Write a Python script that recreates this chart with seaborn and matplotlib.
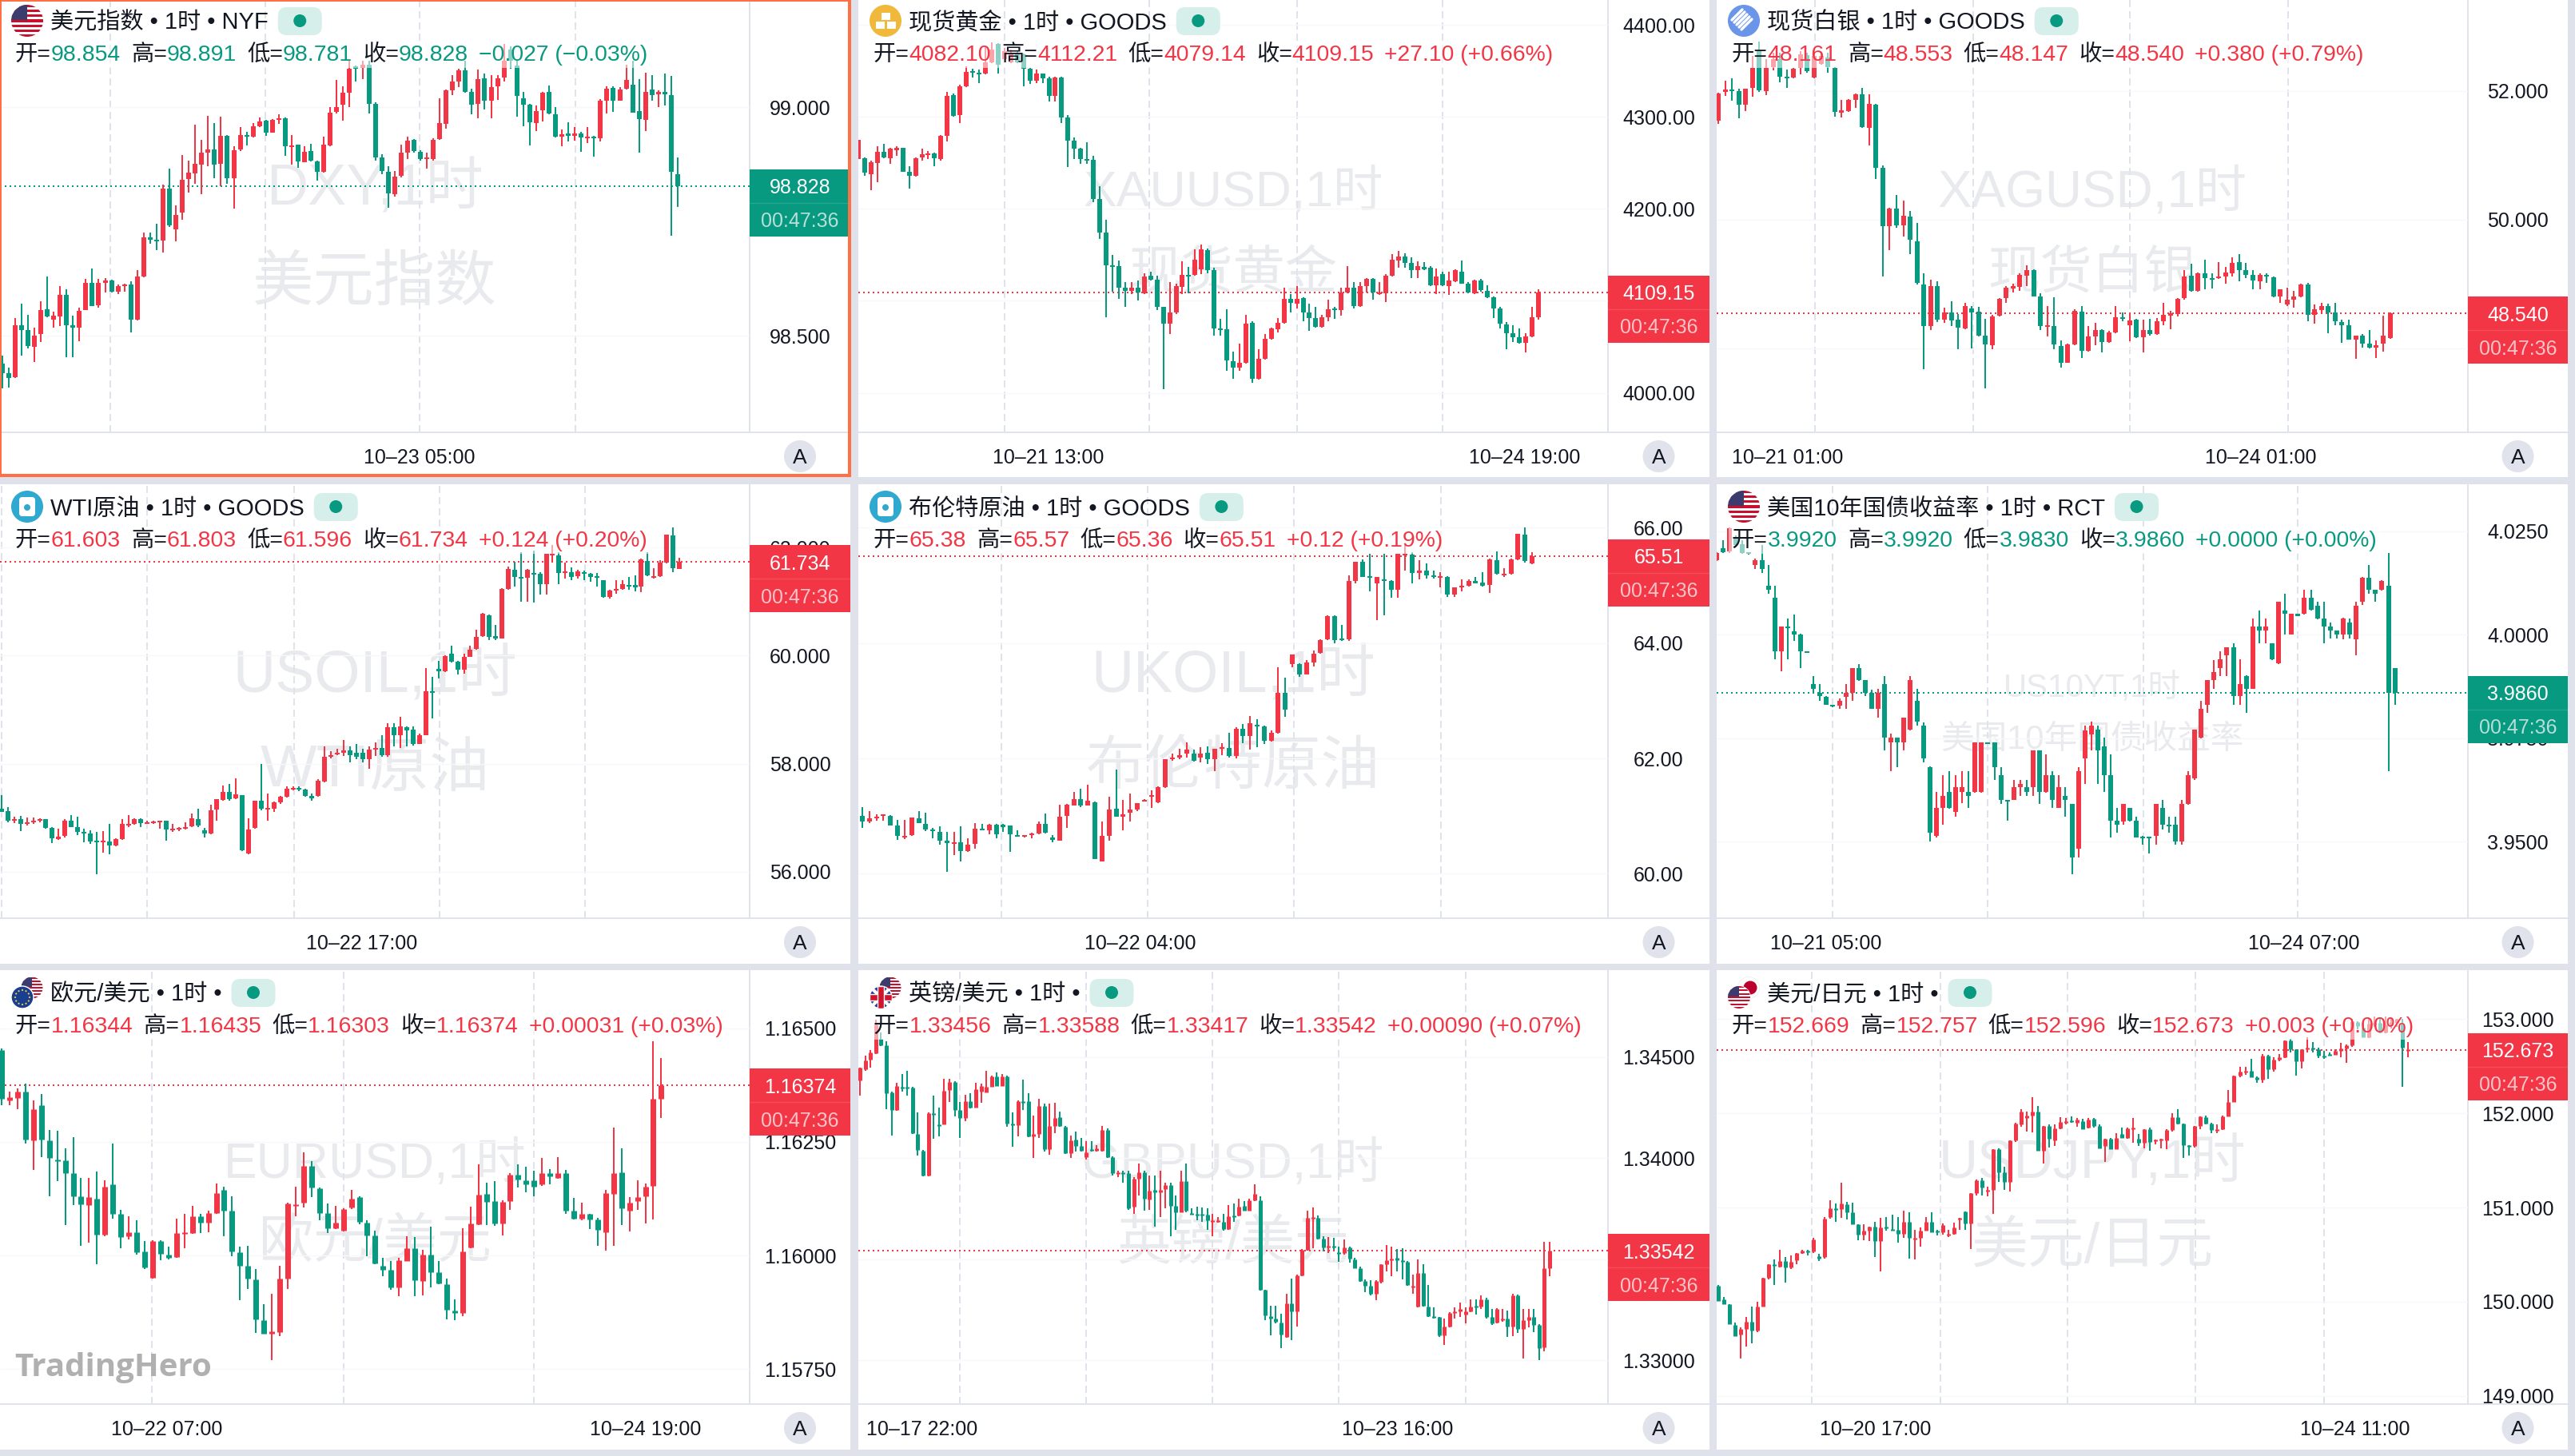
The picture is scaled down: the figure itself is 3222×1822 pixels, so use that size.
import numpy as np
import pandas as pd
import matplotlib
matplotlib.use("Agg")
import matplotlib.pyplot as plt
from matplotlib.patches import Circle, Rectangle, FancyBboxPatch
import seaborn as sns

# bars are flat lists: open, high, low, close, open, high, ...
dxy_ohlc = [
    98.439,98.456,98.385,98.419, 98.419,98.430,98.386,98.408, 98.410,98.538,98.408,98.523, 98.523,98.570,98.456,98.512, 98.512,98.546,98.472,98.478, 98.476,98.517,98.442,98.500,
    98.503,98.575,98.487,98.557, 98.558,98.630,98.541,98.542, 98.536,98.553,98.517,98.544, 98.542,98.609,98.521,98.589, 98.589,98.601,98.453,98.523, 98.523,98.544,98.453,98.517,
    98.517,98.561,98.488,98.555, 98.557,98.625,98.556,98.616, 98.616,98.648,98.565,98.565, 98.566,98.625,98.561,98.616, 98.616,98.627,98.595,98.621, 98.621,98.623,98.595,98.597,
    98.597,98.612,98.592,98.609, 98.609,98.614,98.597,98.612, 98.612,98.619,98.507,98.536, 98.536,98.643,98.534,98.629, 98.629,98.725,98.628,98.716, 98.715,98.725,98.701,98.711,
    98.710,98.745,98.687,98.707, 98.708,98.830,98.682,98.822, 98.822,98.866,98.738,98.741, 98.733,98.786,98.706,98.765, 98.769,98.895,98.753,98.842, 98.843,98.884,98.813,98.857,
    98.856,98.961,98.833,98.876, 98.874,98.929,98.810,98.901, 98.900,98.981,98.871,98.908, 98.908,98.965,98.844,98.874, 98.876,98.979,98.827,98.937, 98.937,98.939,98.833,98.845,
    98.844,98.915,98.778,98.906, 98.907,98.957,98.905,98.939, 98.939,98.946,98.916,98.935, 98.935,98.966,98.934,98.959, 98.959,98.978,98.957,98.968, 98.971,98.973,98.937,98.945,
    98.945,98.974,98.944,98.972, 98.973,98.984,98.963,98.976, 98.976,98.977,98.893,98.914, 98.914,98.939,98.874,98.917, 98.918,98.918,98.867,98.881, 98.880,98.915,98.879,98.903,
    98.905,98.920,98.881,98.884, 98.882,98.884,98.840,98.859, 98.859,98.935,98.857,98.918, 98.916,99.000,98.915,98.988, 98.990,99.060,98.986,99.001, 99.005,99.046,98.971,99.031,
    99.032,99.102,99.000,99.084, 99.090,99.092,99.056,99.084, 99.086,99.102,99.061,99.093, 99.093,99.102,98.986,99.008, 99.008,99.010,98.884,98.891, 98.890,98.898,98.854,98.861,
    98.859,98.871,98.780,98.812, 98.810,98.861,98.805,98.848, 98.850,98.918,98.847,98.901, 98.901,98.935,98.886,98.927, 98.929,98.930,98.901,98.905, 98.903,98.906,98.884,98.886,
    98.886,98.901,98.866,98.891, 98.886,98.932,98.884,98.929, 98.931,99.019,98.929,98.965, 98.964,99.039,98.954,99.037, 99.037,99.071,99.027,99.056, 99.056,99.085,99.044,99.080,
    99.081,99.102,99.031,99.033, 99.033,99.041,98.984,99.005, 99.008,99.082,98.976,99.062, 99.063,99.073,98.995,99.014, 99.014,99.071,98.976,99.044, 99.046,99.071,99.016,99.063,
    99.065,99.139,99.056,99.102, 99.126,99.133,99.085,99.102, 99.092,99.102,98.980,99.024, 99.020,99.034,98.959,99.005, 99.005,99.007,98.916,98.967, 98.966,99.003,98.948,98.992,
    98.993,99.034,98.968,99.031, 99.033,99.048,98.984,98.987, 98.984,99.000,98.934,98.935, 98.935,98.952,98.915,98.941, 98.943,98.967,98.925,98.938, 98.937,98.956,98.927,98.942,
    98.942,98.946,98.903,98.934, 98.933,98.957,98.922,98.935, 98.936,98.937,98.892,98.933, 98.932,99.017,98.925,99.015, 99.014,99.046,98.986,99.041, 99.042,99.046,98.990,99.014,
    99.015,99.044,99.014,99.039, 99.041,99.093,99.039,99.060, 99.050,99.102,98.988,98.988, 98.992,99.061,98.901,98.974, 98.973,99.075,98.948,99.033, 99.039,99.071,99.014,99.026,
    99.029,99.037,99.001,99.033, 99.033,99.073,99.003,99.029, 99.027,99.069,98.719,98.859, 98.854,98.891,98.781,98.828,
]
gold_ohlc = [
    4254,4275,4254,4275, 4255,4256,4236,4239, 4238,4252,4220,4251, 4250,4268,4229,4262, 4262,4271,4255,4256, 4255,4266,4249,4265, 4264,4268,4258,4266, 4266,4266,4240,4240,
    4240,4246,4222,4236, 4236,4256,4235,4255, 4256,4265,4252,4259, 4259,4263,4254,4260, 4260,4261,4246,4255, 4254,4280,4252,4279, 4279,4327,4273,4323, 4324,4325,4300,4301,
    4302,4335,4293,4333, 4333,4355,4332,4349, 4349,4352,4343,4348, 4348,4351,4337,4347, 4347,4376,4346,4359, 4359,4381,4358,4373, 4379,4380,4347,4357, 4363,4375,4359,4371,
    4359,4373,4358,4369, 4369,4371,4358,4359, 4368,4369,4333,4352, 4352,4353,4336,4339, 4339,4351,4337,4347, 4347,4347,4337,4342, 4342,4344,4317,4323, 4323,4344,4317,4343,
    4343,4344,4293,4299, 4299,4302,4245,4274, 4274,4278,4254,4265, 4265,4266,4249,4254, 4254,4272,4249,4252, 4253,4258,4207,4211, 4211,4225,4167,4174, 4174,4188,4082,4139,
    4139,4150,4110,4137, 4138,4144,4102,4114, 4114,4120,4093,4111, 4111,4120,4107,4114, 4114,4122,4100,4109, 4108,4130,4107,4126, 4127,4132,4122,4123, 4123,4127,4090,4093,
    4093,4093,4004,4075, 4075,4120,4064,4087, 4087,4119,4086,4116, 4115,4143,4107,4128, 4128,4137,4108,4127, 4128,4156,4127,4145, 4134,4161,4129,4156, 4155,4157,4130,4133,
    4133,4136,4062,4070, 4070,4080,4062,4068, 4069,4091,4024,4035, 4034,4045,4015,4027, 4027,4053,4024,4033, 4033,4085,4032,4075, 4076,4078,4011,4015, 4015,4047,4014,4037,
    4037,4064,4036,4059, 4059,4071,4058,4070, 4069,4081,4066,4076, 4076,4114,4075,4102, 4102,4107,4087,4098, 4097,4116,4092,4102, 4103,4104,4078,4087, 4087,4097,4067,4081,
    4081,4093,4071,4072, 4072,4085,4071,4082, 4082,4101,4078,4091, 4091,4093,4080,4090, 4090,4114,4084,4109, 4109,4138,4108,4114, 4114,4120,4092,4094, 4094,4120,4093,4116,
    4116,4125,4109,4124, 4124,4125,4101,4109, 4107,4120,4106,4109, 4108,4129,4099,4127, 4127,4151,4126,4145, 4144,4154,4136,4148, 4148,4152,4136,4141, 4141,4147,4125,4133,
    4133,4143,4125,4138, 4137,4142,4133,4134, 4136,4138,4116,4117, 4117,4135,4107,4126, 4129,4132,4116,4117, 4116,4132,4106,4122, 4121,4134,4120,4133, 4132,4144,4119,4119,
    4119,4120,4108,4109, 4108,4123,4107,4122, 4122,4124,4110,4112, 4111,4117,4103,4104, 4104,4105,4081,4092, 4092,4093,4070,4075, 4074,4077,4047,4065, 4065,4073,4055,4060,
    4060,4070,4053,4054, 4054,4065,4044,4061, 4061,4093,4060,4082, 4082.10,4112.21,4079.14,4109.15,
]
silver_ohlc = [
    51.54,51.97,51.48,51.96, 51.98,52.15,51.92,52.02, 52.02,52.19,51.84,52.00, 52.00,52.03,51.57,51.78, 51.78,52.03,51.68,52.03, 52.04,52.54,51.91,52.35, 52.61,52.76,51.98,52.01,
    52.00,52.49,51.93,52.35, 52.37,52.59,52.32,52.49, 52.49,52.59,52.13,52.22, 52.22,52.33,52.04,52.19, 52.21,52.36,52.19,52.34, 52.36,52.61,52.25,52.57, 52.55,52.59,52.28,52.30,
    52.21,52.64,52.19,52.54, 52.42,52.59,52.40,52.54, 52.52,52.59,52.28,52.37, 52.36,52.37,51.60,51.67, 51.66,51.86,51.58,51.70, 51.69,51.87,51.67,51.86, 51.86,51.96,51.74,51.95,
    51.95,52.04,51.42,51.43, 51.42,51.94,51.15,51.79, 51.78,51.79,50.63,50.80, 50.80,50.84,49.12,49.90, 49.90,50.18,49.52,50.17, 50.17,50.38,49.87,49.91, 49.91,50.30,49.73,50.06,
    50.05,50.13,49.46,49.68, 49.66,49.95,48.99,49.01, 48.99,49.17,47.68,48.35, 48.35,49.06,48.28,48.97, 48.97,49.04,48.41,48.45, 48.45,48.63,48.39,48.56, 48.56,48.73,48.34,48.43,
    48.44,48.53,47.98,48.32, 48.31,48.71,48.30,48.65, 48.62,48.65,48.00,48.56, 48.57,48.64,48.18,48.19, 48.19,48.46,47.38,48.06, 48.05,48.52,47.98,48.50, 48.51,48.78,48.49,48.77,
    48.78,48.96,48.70,48.94, 48.93,49.00,48.87,48.96, 48.95,49.16,48.89,49.14, 49.13,49.29,48.97,49.22, 49.22,49.23,48.80,48.81, 48.81,48.85,48.28,48.34, 48.33,48.65,48.18,48.35,
    48.35,48.79,47.98,48.06, 48.04,48.12,47.70,47.77, 47.77,48.07,47.77,48.06, 48.06,48.60,48.05,48.58, 48.57,48.65,47.85,47.96, 47.96,48.34,47.95,48.18, 48.18,48.40,48.05,48.28,
    48.28,48.29,47.94,48.10, 48.10,48.27,48.09,48.25, 48.24,48.65,48.23,48.48, 48.48,48.56,48.42,48.46, 48.36,48.56,48.11,48.43, 48.44,48.46,48.16,48.17, 48.17,48.44,47.93,48.28,
    48.28,48.46,48.20,48.22, 48.22,48.47,48.21,48.42, 48.42,48.70,48.36,48.52, 48.51,48.58,48.30,48.54, 48.53,48.78,48.50,48.77, 48.78,49.22,48.76,49.12, 49.13,49.31,48.88,48.89,
    48.89,49.18,48.88,49.17, 49.16,49.38,48.92,49.09, 49.09,49.17,48.93,49.06, 49.09,49.34,49.08,49.11, 49.11,49.26,49.00,49.18, 49.17,49.41,49.11,49.32, 49.34,49.46,49.04,49.21,
    49.21,49.33,49.09,49.14, 49.14,49.21,48.92,49.05, 49.04,49.16,48.91,49.14, 49.14,49.17,49.01,49.11, 49.10,49.11,48.79,48.81, 48.81,48.92,48.71,48.91, 48.68,48.94,48.65,48.75,
    48.75,48.89,48.63,48.80, 48.80,49.00,48.79,48.99, 48.99,49.01,48.42,48.52, 48.52,48.68,48.38,48.60, 48.59,48.70,48.55,48.65, 48.65,48.69,48.23,48.56, 48.55,48.71,48.36,48.42,
    48.41,48.45,48.08,48.36, 48.36,48.45,48.13,48.14, 48.14,48.19,47.84,48.19, 48.19,48.22,48.01,48.07, 48.07,48.28,48.00,48.01, 48.01,48.12,47.85,48.05, 48.07,48.51,47.95,48.19,
    48.161,48.553,48.147,48.540,
]
wti_ohlc = [
    57.16,57.41,57.11,57.11, 57.12,57.20,56.92,56.94, 56.94,57.02,56.90,56.97, 56.97,57.04,56.75,56.89, 56.88,57.01,56.86,56.92, 56.92,57.01,56.89,56.95, 56.94,56.99,56.91,56.97, 56.97,56.98,56.79,56.81,
    56.81,56.83,56.53,56.62, 56.61,56.79,56.59,56.65, 56.67,56.97,56.63,56.95, 56.94,57.05,56.82,56.83, 56.82,57.02,56.68,56.74, 56.74,56.79,56.55,56.71, 56.71,56.76,56.52,56.56, 56.57,56.74,55.96,56.55,
    56.55,56.75,56.36,56.57, 56.56,56.88,56.33,56.48, 56.48,56.62,56.47,56.61, 56.61,56.97,56.59,56.89, 56.85,57.05,56.83,56.88, 56.88,56.99,56.87,56.97, 56.97,56.99,56.83,56.90, 56.89,56.94,56.88,56.91,
    56.90,56.95,56.88,56.93, 56.92,56.95,56.79,56.94, 56.94,56.95,56.57,56.78, 56.76,56.88,56.74,56.79, 56.79,56.82,56.75,56.80, 56.80,56.91,56.78,56.83, 56.84,57.08,56.82,56.99, 56.98,57.16,56.83,56.85,
    56.76,56.81,56.64,56.71, 56.71,57.24,56.70,57.14, 57.15,57.35,56.94,57.34, 57.33,57.59,57.31,57.48, 57.48,57.63,57.31,57.35, 57.36,57.73,57.34,57.43, 57.41,57.41,56.38,56.39, 56.34,56.99,56.33,56.78,
    56.81,57.31,56.79,57.31, 57.31,58.00,57.14,57.16, 57.16,57.45,56.95,57.18, 57.16,57.30,57.10,57.28, 57.28,57.40,57.26,57.39, 57.39,57.58,57.37,57.54, 57.53,57.58,57.51,57.55, 57.55,57.58,57.49,57.52,
    57.52,57.54,57.39,57.40, 57.40,57.45,57.31,57.36, 57.40,57.71,57.39,57.68, 57.67,58.32,57.66,58.13, 58.13,58.23,58.10,58.16, 58.18,58.27,58.16,58.20, 58.20,58.44,58.14,58.24, 58.25,58.32,58.02,58.16,
    58.20,58.36,58.09,58.13, 58.20,58.27,58.02,58.09, 58.09,58.32,57.90,58.26, 58.26,58.40,58.14,58.29, 58.29,58.52,58.13,58.16, 58.16,58.75,58.13,58.67, 58.67,58.75,58.32,58.53, 58.52,58.87,58.29,58.69,
    58.67,58.69,58.32,58.61, 58.63,58.69,58.34,58.37, 58.37,58.56,58.36,58.53, 58.53,59.77,58.52,59.34, 59.34,59.61,58.83,59.32, 59.75,59.90,59.57,59.71, 59.71,60.01,59.70,59.99, 60.03,60.18,59.87,59.88,
    59.88,59.90,59.65,59.74, 59.74,60.04,59.67,59.98, 59.98,60.18,59.97,60.11, 60.13,60.48,60.11,60.34, 60.36,60.79,60.34,60.78, 60.75,60.76,60.29,60.34, 60.36,60.57,60.29,60.31, 60.32,61.25,60.31,61.24,
    61.24,61.65,61.22,61.60, 61.59,61.74,61.28,61.46, 61.45,61.91,60.99,61.43, 61.44,61.60,60.99,61.59, 61.53,61.94,60.98,61.51, 61.51,61.55,61.13,61.32, 61.32,61.89,61.13,61.88, 61.85,62.04,61.72,61.88,
    61.85,61.91,61.32,61.53, 61.53,61.72,61.42,61.55, 61.55,61.63,61.40,61.45, 61.47,61.59,61.43,61.56, 61.55,61.57,61.39,61.52, 61.51,61.53,61.37,61.45, 61.46,61.53,61.28,61.44, 61.39,61.40,61.07,61.09,
    61.09,61.22,61.05,61.20, 61.21,61.39,61.14,61.24, 61.24,61.39,61.22,61.32, 61.30,61.45,61.22,61.29, 61.30,61.48,61.19,61.26, 61.28,61.79,61.18,61.78, 61.75,61.91,61.47,61.49, 61.44,61.62,61.43,61.47,
    61.47,61.76,61.45,61.72, 61.72,62.24,61.70,62.24, 62.22,62.37,61.55,61.62, 61.603,61.803,61.596,61.734,
]
brent_ohlc = [
    61.00,61.16,60.80,60.91, 60.91,61.09,60.88,60.96, 60.96,61.03,60.92,60.99, 61.01,61.03,60.92,61.03, 61.01,61.02,60.83,60.84, 60.84,60.93,60.59,60.66, 60.63,60.93,60.60,60.66, 60.67,60.97,60.66,60.97,
    60.96,61.08,60.88,60.88, 60.87,61.06,60.74,60.77, 60.77,60.80,60.61,60.74, 60.72,60.82,60.51,60.58, 60.57,60.72,60.03,60.53, 60.53,60.72,60.33,60.54, 60.54,60.82,60.22,60.39, 60.39,60.62,60.38,60.51,
    60.52,60.88,60.44,60.78, 60.78,60.86,60.77,60.75, 60.76,60.87,60.68,60.85, 60.85,60.87,60.62,60.69, 60.85,60.87,60.72,60.81, 60.83,60.84,60.38,60.68, 60.66,60.76,60.64,60.64, 60.64,60.65,60.63,60.67,
    60.67,60.71,60.62,60.70, 60.70,60.90,60.69,60.86, 60.86,61.05,60.70,60.71, 60.63,60.67,60.54,60.59, 60.58,61.20,60.57,60.99, 61.01,61.21,60.80,61.20, 61.19,61.42,61.18,61.30, 61.30,61.47,61.16,61.19,
    61.19,61.55,61.18,61.27, 61.24,61.25,60.25,60.26, 60.22,60.90,60.21,60.66, 60.66,61.33,60.57,61.12, 61.13,61.81,60.99,60.99, 60.99,61.28,60.75,61.03, 61.06,61.39,60.90,61.12, 61.12,61.23,61.09,61.23,
    61.26,61.30,61.25,61.28, 61.35,61.44,61.14,61.35, 61.24,61.51,61.23,61.50, 61.50,61.99,61.49,61.98, 61.98,62.09,61.96,62.01, 62.01,62.17,61.98,62.06, 62.09,62.28,62.01,62.15, 62.09,62.15,61.95,61.96,
    62.02,62.19,61.93,62.08, 62.10,62.21,61.90,61.99, 61.99,62.09,61.78,62.16, 62.16,62.26,62.05,62.19, 62.18,62.44,62.02,62.04, 62.04,62.54,62.00,62.52, 62.52,62.60,62.26,62.39, 62.39,62.74,62.15,62.61,
    62.58,62.68,62.20,62.55, 62.55,62.57,62.25,62.30, 62.30,62.49,62.29,62.44, 62.44,63.58,62.43,63.13, 63.13,63.40,62.72,62.85, 63.64,63.78,63.58,63.80, 63.63,63.65,63.41,63.45, 63.45,63.70,63.50,63.66,
    63.66,63.87,63.59,63.82, 63.83,64.06,63.82,64.05, 64.06,64.48,64.05,64.47, 64.47,64.48,63.99,64.05, 64.08,64.31,64.03,64.06, 64.06,65.17,64.04,65.07, 65.08,65.41,65.03,65.41, 65.41,65.45,65.15,65.15,
    65.15,65.54,64.90,65.13, 65.03,65.15,64.40,65.14, 65.10,65.54,64.48,65.08, 65.07,65.09,64.78,64.93, 64.93,65.55,64.79,65.54, 65.52,65.70,65.25,65.54, 65.53,65.58,65.03,65.21, 65.21,65.44,65.10,65.25,
    65.26,65.38,65.12,65.17, 65.17,65.25,65.12,65.15, 65.14,65.23,64.97,65.16, 65.15,65.16,64.80,64.84, 64.84,64.87,64.80,64.96, 64.97,65.10,64.90,64.99, 64.99,65.11,64.98,65.08, 65.08,65.15,65.03,65.04,
    65.05,65.23,64.98,64.99, 65.01,65.46,64.87,65.45, 65.44,65.59,65.19,65.20, 65.17,65.30,65.15,65.20, 65.20,65.46,65.19,65.45, 65.45,65.89,65.43,65.89, 65.88,66.00,65.40,65.42, 65.38,65.57,65.36,65.51,
]
yield_ohlc = [
    4.0179,4.0199,4.0178,4.0198, 4.0208,4.0228,4.0198,4.0199, 4.0201,4.0259,4.0198,4.0258, 4.0232,4.0240,4.0213,4.0216, 4.0219,4.0228,4.0195,4.0198, 4.0198,4.0199,4.0194,4.0196, 4.0168,4.0183,4.0158,4.0179, 4.0179,4.0217,4.0149,4.0158,
    4.0119,4.0168,4.0098,4.0108, 4.0089,4.0119,3.9941,3.9959, 3.9959,4.0020,3.9911,4.0020, 4.0020,4.0039,3.9941,4.0016, 4.0009,4.0048,3.9984,4.0001, 4.0000,4.0002,3.9919,3.9959, 3.9959,3.9960,3.9956,3.9957, 3.9881,3.9900,3.9858,3.9869,
    3.9859,3.9881,3.9840,3.9851, 3.9850,3.9851,3.9830,3.9830, 3.9830,3.9831,3.9825,3.9827, 3.9829,3.9845,3.9821,3.9840, 3.9849,3.9881,3.9821,3.9860, 3.9860,3.9920,3.9840,3.9919, 3.9919,3.9928,3.9888,3.9890, 3.9890,3.9891,3.9851,3.9859,
    3.9860,3.9868,3.9820,3.9821, 3.9821,3.9870,3.9800,3.9860, 3.9881,3.9900,3.9721,3.9751, 3.9739,3.9761,3.9670,3.9751, 3.9751,3.9752,3.9680,3.9740, 3.9740,3.9800,3.9721,3.9799, 3.9770,3.9900,3.9769,3.9890, 3.9840,3.9869,3.9781,3.9790,
    3.9780,3.9789,3.9691,3.9701, 3.9680,3.9681,3.9501,3.9522, 3.9513,3.9620,3.9511,3.9582, 3.9582,3.9661,3.9541,3.9610, 3.9620,3.9670,3.9580,3.9582, 3.9571,3.9661,3.9560,3.9631, 3.9620,3.9670,3.9594,3.9631, 3.9620,3.9670,3.9581,3.9610,
    3.9620,3.9740,3.9619,3.9739, 3.9620,3.9740,3.9619,3.9739, 3.9739,3.9740,3.9735,3.9736, 3.9739,3.9740,3.9650,3.9680, 3.9660,3.9680,3.9591,3.9601, 3.9600,3.9601,3.9550,3.9597, 3.9601,3.9650,3.9600,3.9631, 3.9631,3.9650,3.9610,3.9640,
    3.9631,3.9650,3.9610,3.9620, 3.9631,3.9721,3.9610,3.9720, 3.9720,3.9721,3.9591,3.9620, 3.9620,3.9710,3.9618,3.9660, 3.9660,3.9670,3.9582,3.9601, 3.9582,3.9660,3.9581,3.9631, 3.9610,3.9631,3.9560,3.9601, 3.9591,3.9592,3.9421,3.9462,
    3.9483,3.9680,3.9462,3.9670, 3.9701,3.9781,3.9640,3.9769, 3.9760,3.9790,3.9720,3.9780, 3.9770,3.9781,3.9640,3.9721, 3.9730,3.9751,3.9620,3.9661, 3.9660,3.9710,3.9511,3.9551, 3.9551,3.9582,3.9522,3.9541, 3.9549,3.9592,3.9541,3.9591,
    3.9581,3.9582,3.9549,3.9550, 3.9550,3.9560,3.9510,3.9511, 3.9511,3.9513,3.9492,3.9509, 3.9511,3.9512,3.9472,3.9509, 3.9513,3.9592,3.9492,3.9591, 3.9581,3.9601,3.9530,3.9541, 3.9541,3.9560,3.9522,3.9537, 3.9541,3.9560,3.9492,3.9501,
    3.9501,3.9600,3.9492,3.9591, 3.9591,3.9670,3.9589,3.9660, 3.9652,3.9771,3.9650,3.9770, 3.9751,3.9840,3.9750,3.9821, 3.9830,3.9891,3.9811,3.9890, 3.9890,3.9939,3.9870,3.9910, 3.9920,3.9960,3.9900,3.9941, 3.9950,3.9970,3.9900,3.9969,
    3.9969,3.9979,3.9830,3.9851, 3.9851,3.9941,3.9830,3.9881, 3.9900,3.9901,3.9811,3.9870, 3.9870,4.0039,3.9869,4.0020, 4.0020,4.0059,3.9979,4.0010, 4.0011,4.0039,3.9979,4.0020, 3.9979,3.9980,3.9939,3.9941, 3.9930,4.0080,3.9928,4.0079,
    4.0059,4.0098,4.0001,4.0050, 4.0001,4.0051,4.0000,4.0050, 4.0050,4.0051,4.0044,4.0045, 4.0050,4.0108,4.0048,4.0089, 4.0089,4.0108,4.0059,4.0061, 4.0069,4.0080,4.0038,4.0039, 4.0039,4.0080,3.9979,4.0020, 4.0020,4.0029,3.9990,4.0010,
    4.0010,4.0011,3.9990,4.0001, 4.0001,4.0040,3.9989,4.0039, 4.0029,4.0039,3.9990,4.0001, 3.9989,4.0080,3.9950,4.0069, 4.0080,4.0139,4.0071,4.0138, 4.0138,4.0168,4.0098,4.0108, 4.0108,4.0109,4.0080,4.0099, 4.0108,4.0131,4.0107,4.0129,
    4.0119,4.0198,3.9670,3.9860, 3.9920,3.9920,3.9830,3.9860,
]
eur_ohlc = [
    1.16453,1.16456,1.16330,1.16344, 1.16342,1.16361,1.16331,1.16348, 1.16346,1.16367,1.16322,1.16360, 1.16361,1.16378,1.16247,1.16255, 1.16253,1.16342,1.16188,1.16322, 1.16330,1.16356,1.16217,1.16256, 1.16253,1.16277,1.16130,1.16215,
    1.16212,1.16274,1.16163,1.16208, 1.16209,1.16236,1.16067,1.16181, 1.16181,1.16260,1.16111,1.16130, 1.16130,1.16171,1.16021,1.16113, 1.16111,1.16171,1.16028,1.16128, 1.16125,1.16184,1.15980,1.16046, 1.16045,1.16166,1.16043,1.16152,
    1.16157,1.16246,1.16081,1.16091, 1.16091,1.16101,1.16016,1.16041, 1.16042,1.16086,1.16036,1.16052, 1.16051,1.16077,1.16002,1.16007, 1.16009,1.16031,1.15971,1.15973, 1.15951,1.16033,1.15950,1.16032, 1.16031,1.16033,1.15990,1.16004,
    1.16002,1.16019,1.15992,1.15995, 1.15997,1.16081,1.15995,1.16049, 1.16048,1.16092,1.16016,1.16051, 1.16050,1.16110,1.16048,1.16086, 1.16086,1.16092,1.16050,1.16072, 1.16072,1.16098,1.16051,1.16093, 1.16093,1.16159,1.16092,1.16137,
    1.16144,1.16151,1.16043,1.16099, 1.16098,1.16130,1.15999,1.16009, 1.16008,1.16019,1.15901,1.15978, 1.15978,1.16021,1.15927,1.15949, 1.15947,1.15971,1.15830,1.15860, 1.15857,1.15893,1.15827,1.15828, 1.15827,1.15915,1.15770,1.15833,
    1.15831,1.15978,1.15822,1.15949, 1.15949,1.16117,1.15927,1.16115, 1.16110,1.16152,1.16087,1.16113, 1.16116,1.16227,1.16106,1.16197, 1.16197,1.16207,1.16128,1.16150, 1.16148,1.16149,1.16077,1.16094, 1.16094,1.16115,1.16050,1.16060,
    1.16060,1.16110,1.16058,1.16072, 1.16055,1.16104,1.16053,1.16102, 1.16106,1.16145,1.16103,1.16125, 1.16128,1.16130,1.16068,1.16074, 1.16072,1.16077,1.15999,1.16044, 1.16044,1.16055,1.15980,1.15982, 1.15978,1.15995,1.15954,1.15968,
    1.15968,1.15987,1.15924,1.15930, 1.15930,1.15994,1.15910,1.15990, 1.15988,1.16042,1.15987,1.16016, 1.16016,1.16040,1.15910,1.15946, 1.15944,1.16012,1.15912,1.16002, 1.16002,1.16064,1.15930,1.15964, 1.15964,1.15987,1.15936,1.15939,
    1.15937,1.15949,1.15860,1.15880, 1.15879,1.15903,1.15857,1.15874, 1.15874,1.16060,1.15867,1.16009, 1.16017,1.16108,1.16016,1.16070, 1.16068,1.16200,1.16067,1.16134, 1.16135,1.16161,1.16067,1.16118, 1.16120,1.16163,1.16065,1.16070,
    1.16070,1.16122,1.16044,1.16118, 1.16120,1.16181,1.16101,1.16178, 1.16178,1.16201,1.16149,1.16167, 1.16165,1.16195,1.16139,1.16157, 1.16165,1.16186,1.16130,1.16152, 1.16156,1.16214,1.16154,1.16181, 1.16181,1.16190,1.16156,1.16175,
    1.16171,1.16217,1.16169,1.16181, 1.16181,1.16188,1.16092,1.16098, 1.16098,1.16126,1.16079,1.16081, 1.16081,1.16117,1.16077,1.16092, 1.16091,1.16092,1.16058,1.16079, 1.16079,1.16082,1.16021,1.16057, 1.16051,1.16144,1.16011,1.16137,
    1.16135,1.16281,1.16021,1.16181, 1.16183,1.16236,1.16067,1.16104, 1.16099,1.16128,1.16053,1.16117, 1.16120,1.16166,1.16101,1.16128, 1.16130,1.16159,1.16070,1.16151, 1.16154,1.16472,1.16079,1.16344, 1.16344,1.16435,1.16303,1.16374,
]
gbp_ohlc = [
    1.34385,1.34446,1.34311,1.34446, 1.34438,1.34508,1.34431,1.34484, 1.34488,1.34535,1.34446,1.34523, 1.34518,1.34684,1.34515,1.34661, 1.34592,1.34623,1.34554,1.34557, 1.34557,1.34577,1.34243,1.34323, 1.34326,1.34331,1.34112,1.34238,
    1.34238,1.34372,1.34234,1.34357, 1.34354,1.34418,1.34331,1.34348, 1.34351,1.34434,1.34308,1.34346, 1.34351,1.34354,1.34120,1.34123, 1.34120,1.34228,1.34015,1.34042, 1.34038,1.34040,1.33911,1.33915, 1.33915,1.34225,1.33911,1.34223,
    1.34223,1.34311,1.34095,1.34218, 1.34169,1.34251,1.34108,1.34161, 1.34169,1.34392,1.34166,1.34335, 1.34338,1.34392,1.34277,1.34377, 1.34377,1.34380,1.34208,1.34238, 1.34238,1.34277,1.34100,1.34197, 1.34197,1.34315,1.34185,1.34280,
    1.34280,1.34323,1.34246,1.34249, 1.34251,1.34372,1.34249,1.34341, 1.34331,1.34369,1.34274,1.34357, 1.34326,1.34431,1.34325,1.34354, 1.34354,1.34408,1.34353,1.34405, 1.34405,1.34426,1.34356,1.34357, 1.34357,1.34415,1.34356,1.34405,
    1.34405,1.34408,1.34157,1.34172, 1.34172,1.34228,1.34058,1.34165, 1.34165,1.34285,1.34108,1.34280, 1.34280,1.34389,1.34238,1.34274, 1.34280,1.34320,1.34103,1.34108, 1.34108,1.34212,1.34003,1.34120, 1.34120,1.34295,1.34100,1.34258,
    1.34258,1.34269,1.34034,1.34046, 1.34046,1.34269,1.34018,1.34161, 1.34161,1.34274,1.34123,1.34200, 1.34203,1.34231,1.34157,1.34161, 1.34157,1.34161,1.34020,1.34023, 1.34023,1.34111,1.34003,1.34089, 1.34092,1.34131,1.34031,1.34062,
    1.34062,1.34100,1.34031,1.34038, 1.34005,1.34085,1.33992,1.34028, 1.34043,1.34085,1.34031,1.34037, 1.34038,1.34065,1.34031,1.34049, 1.34038,1.34161,1.34034,1.34141, 1.34141,1.34146,1.34000,1.34005, 1.34005,1.34008,1.33915,1.33926,
    1.33923,1.33938,1.33905,1.33931, 1.33931,1.33938,1.33877,1.33923, 1.33926,1.33938,1.33746,1.33754, 1.33762,1.33905,1.33723,1.33900, 1.33900,1.33972,1.33815,1.33931, 1.33931,1.33938,1.33742,1.33800, 1.33797,1.33915,1.33746,1.33839,
    1.33842,1.33915,1.33662,1.33831, 1.33831,1.33938,1.33708,1.33842, 1.33849,1.33877,1.33754,1.33866, 1.33866,1.33877,1.33612,1.33765, 1.33765,1.33815,1.33646,1.33731, 1.33734,1.33938,1.33731,1.33885, 1.33885,1.33972,1.33731,1.33739,
    1.33729,1.33754,1.33720,1.33723, 1.33726,1.33762,1.33692,1.33719, 1.33723,1.33757,1.33685,1.33715, 1.33719,1.33754,1.33646,1.33692, 1.33685,1.33723,1.33615,1.33692, 1.33685,1.33708,1.33680,1.33692, 1.33685,1.33723,1.33643,1.33649,
    1.33649,1.33769,1.33646,1.33712, 1.33715,1.33777,1.33685,1.33708, 1.33715,1.33800,1.33712,1.33762, 1.33765,1.33788,1.33739,1.33742, 1.33742,1.33800,1.33739,1.33792, 1.33792,1.33869,1.33788,1.33823, 1.33792,1.33811,1.33346,1.33349,
    1.33349,1.33350,1.33200,1.33223, 1.33219,1.33269,1.33123,1.33208, 1.33208,1.33269,1.33185,1.33193, 1.33188,1.33231,1.33059,1.33126, 1.33116,1.33331,1.33113,1.33280, 1.33280,1.33405,1.33100,1.33242, 1.33242,1.33423,1.33169,1.33419,
    1.33419,1.33549,1.33416,1.33546, 1.33546,1.33739,1.33543,1.33703, 1.33700,1.33757,1.33554,1.33708, 1.33705,1.33715,1.33597,1.33603, 1.33603,1.33612,1.33539,1.33559, 1.33559,1.33609,1.33531,1.33565, 1.33565,1.33608,1.33546,1.33557,
    1.33536,1.33562,1.33489,1.33528, 1.33531,1.33600,1.33523,1.33559, 1.33559,1.33562,1.33485,1.33505, 1.33500,1.33508,1.33454,1.33457, 1.33457,1.33462,1.33389,1.33393, 1.33393,1.33400,1.33339,1.33369, 1.33369,1.33397,1.33323,1.33328,
    1.33331,1.33396,1.33297,1.33393, 1.33388,1.33477,1.33382,1.33474, 1.33474,1.33569,1.33439,1.33497, 1.33497,1.33562,1.33416,1.33505, 1.33508,1.33551,1.33439,1.33497, 1.33497,1.33554,1.33400,1.33488, 1.33488,1.33492,1.33369,1.33374,
    1.33363,1.33423,1.33331,1.33369, 1.33265,1.33500,1.33262,1.33431, 1.33431,1.33477,1.33266,1.33269, 1.33265,1.33372,1.33216,1.33220, 1.33219,1.33262,1.33208,1.33213, 1.33213,1.33216,1.33116,1.33123, 1.33123,1.33208,1.33077,1.33169,
    1.33166,1.33239,1.33162,1.33234, 1.33234,1.33262,1.33208,1.33242, 1.33242,1.33285,1.33216,1.33254, 1.33228,1.33262,1.33185,1.33242, 1.33243,1.33300,1.33239,1.33265, 1.33269,1.33300,1.33228,1.33262, 1.33265,1.33320,1.33254,1.33300,
    1.33300,1.33308,1.33208,1.33213, 1.33213,1.33254,1.33177,1.33185, 1.33188,1.33259,1.33185,1.33254, 1.33200,1.33254,1.33193,1.33208, 1.33208,1.33246,1.33116,1.33166, 1.33166,1.33331,1.33120,1.33323, 1.33323,1.33326,1.33136,1.33157,
    1.33157,1.33254,1.33008,1.33200, 1.33200,1.33254,1.33162,1.33216, 1.33213,1.33254,1.33139,1.33177, 1.33177,1.33178,1.33003,1.33062, 1.33065,1.33585,1.33046,1.33454, 1.33456,1.33588,1.33417,1.33542,
]
jpy_ohlc = [
    150.17,150.18,150.01,150.01, 150.02,150.05,149.97,149.97, 149.97,149.97,149.76,149.76, 149.75,149.78,149.63,149.63, 149.65,149.73,149.40,149.71, 149.71,149.84,149.52,149.79, 149.79,149.95,149.56,149.69,
    149.69,150.00,149.68,149.95, 149.95,150.24,149.97,150.25, 150.25,150.40,150.24,150.40, 150.39,150.45,150.18,150.38, 150.37,150.55,150.36,150.43, 150.43,150.47,150.20,150.36, 150.36,150.49,150.35,150.42,
    150.44,150.52,150.40,150.52, 150.52,150.55,150.51,150.54, 150.54,150.55,150.49,150.53, 150.53,150.68,150.52,150.66, 150.48,150.51,150.43,150.46, 150.47,150.90,150.46,150.88, 150.90,151.08,150.88,150.99,
    150.99,151.04,150.85,150.98, 150.98,151.26,150.89,151.04, 151.03,151.06,150.87,150.95, 150.95,151.05,150.82,150.82, 150.82,150.77,150.65,150.71, 150.71,150.82,150.65,150.75, 150.75,150.80,150.64,150.80,
    150.80,150.85,150.47,150.64, 150.64,150.89,150.32,150.79, 150.79,150.90,150.75,150.78, 150.77,150.92,150.75,150.75, 150.76,150.90,150.63,150.72, 150.72,150.97,150.68,150.85, 150.85,150.95,150.46,150.68,
    150.66,150.76,150.45,150.67, 150.68,150.79,150.58,150.75, 150.75,150.90,150.75,150.85, 150.85,150.95,150.74,150.74, 150.75,150.76,150.70,150.74, 150.74,150.83,150.71,150.81, 150.70,150.76,150.69,150.72,
    150.72,150.84,150.71,150.79, 150.88,150.89,150.76,150.88, 150.96,150.89,150.76,150.83, 150.83,151.00,150.56,151.15, 151.15,151.30,151.13,151.29, 151.29,151.31,151.13,151.21, 151.17,151.22,151.12,151.19,
    151.19,151.62,150.93,151.62, 151.62,151.63,151.27,151.37, 151.37,151.43,151.19,151.27, 151.27,151.71,151.17,151.71, 151.71,151.90,151.70,151.89, 151.88,152.04,151.86,152.02, 151.95,152.02,151.81,151.98,
    151.98,152.17,151.80,152.02, 152.02,152.08,151.60,151.60, 151.60,151.87,151.47,151.87, 151.87,151.88,151.64,151.73, 151.71,151.88,151.65,151.84, 151.84,151.96,151.83,151.91, 151.90,151.95,151.88,151.92,
    151.92,151.97,151.90,151.91, 151.90,151.95,151.86,151.93, 151.92,151.94,151.83,151.83, 151.85,151.95,151.84,151.93, 151.94,151.95,151.85,151.87, 151.87,151.88,151.64,151.63, 151.65,151.65,151.48,151.73,
    151.73,151.74,151.62,151.62, 151.62,151.79,151.62,151.74, 151.78,151.85,151.74,151.74, 151.74,151.85,151.73,151.84, 151.84,151.95,151.69,151.84, 151.73,151.78,151.65,151.69, 151.69,151.83,151.63,151.83,
    151.83,151.85,151.60,151.70, 151.71,151.72,151.67,151.72, 151.71,151.71,151.63,151.73, 151.71,151.83,151.62,151.82, 151.82,152.00,151.81,151.96, 151.96,152.04,151.88,151.89, 151.89,151.77,151.53,151.66,
    151.66,151.64,151.55,151.65, 151.65,151.87,151.64,151.87, 151.87,151.94,151.83,151.97, 151.96,151.98,151.88,151.89, 151.89,151.90,151.79,151.82, 151.82,151.88,151.79,151.83, 151.83,151.98,151.82,151.97,
    151.97,152.25,151.97,152.12, 152.12,152.39,152.13,152.40, 152.40,152.49,152.38,152.44, 152.44,152.49,152.41,152.45, 152.45,152.58,152.43,152.38, 152.38,152.39,152.32,152.36, 152.36,152.63,152.32,152.61,
    152.61,152.62,152.37,152.47, 152.47,152.60,152.44,152.57, 152.57,152.63,152.55,152.60, 152.60,152.77,152.59,152.77, 152.77,152.79,152.65,152.68, 152.68,152.68,152.40,152.55, 152.55,152.68,152.48,152.68,
    152.68,152.81,152.65,152.70, 152.70,152.76,152.65,152.68, 152.68,152.70,152.59,152.61, 152.61,152.66,152.58,152.60, 152.63,152.65,152.61,152.62, 152.62,152.68,152.62,152.66, 152.66,152.75,152.60,152.69,
    152.69,152.73,152.54,152.72, 152.72,153.00,152.71,152.98, 152.97,152.98,152.89,152.93, 152.91,152.98,152.83,152.81, 152.81,153.01,152.80,152.95, 152.95,153.03,152.92,152.96, 152.96,153.02,152.85,152.86,
    152.86,153.03,152.85,152.94, 152.94,153.00,152.90,152.97, 152.96,153.00,152.92,153.00, 152.95,153.00,152.28,152.70, 152.669,152.757,152.596,152.673,
]

last_prices = [98.828, 4109.15, 48.540, 61.734, 65.51, 3.9860, 1.16374, 1.33542, 152.673]

dxy_ticks = [99.0, 98.5]
gold_ticks = [4400, 4300, 4200, 4100, 4000]
silver_ticks = [52, 50, 48]
wti_ticks = [62, 60, 58, 56]
brent_ticks = [66, 64, 62, 60]
yield_ticks = [4.025, 4.0, 3.975, 3.95]
eur_ticks = [1.165, 1.1625, 1.16, 1.1575]
gbp_ticks = [1.345, 1.34, 1.335, 1.33]
jpy_ticks = [153, 152, 151, 150, 149]
tick_decimals = [3, 2, 3, 3, 2, 4, 5, 5, 3]

titles = ["美元指数 • 1时 • NYF", "现货黄金 • 1时 • GOODS", "现货白银 • 1时 • GOODS",
          "WTI原油 • 1时 • GOODS", "布伦特原油 • 1时 • GOODS", "美国10年国债收益率 • 1时 • RCT",
          "欧元/美元 • 1时 •", "英镑/美元 • 1时 •", "美元/日元 • 1时 •"]
field_names = ["开=", "高=", "低=", "收="]
dxy_fields = ["98.854", "98.891", "98.781", "98.828", "−0.027 (−0.03%)"]
gold_fields = ["4082.10", "4112.21", "4079.14", "4109.15", "+27.10 (+0.66%)"]
silver_fields = ["48.161", "48.553", "48.147", "48.540", "+0.380 (+0.79%)"]
wti_fields = ["61.603", "61.803", "61.596", "61.734", "+0.124 (+0.20%)"]
brent_fields = ["65.38", "65.57", "65.36", "65.51", "+0.12 (+0.19%)"]
yield_fields = ["3.9920", "3.9920", "3.9830", "3.9860", "+0.0000 (+0.00%)"]
eur_fields = ["1.16344", "1.16435", "1.16303", "1.16374", "+0.00031 (+0.03%)"]
gbp_fields = ["1.33456", "1.33588", "1.33417", "1.33542", "+0.00090 (+0.07%)"]
jpy_fields = ["152.669", "152.757", "152.596", "152.673", "+0.003 (+0.00%)"]
field_up = [False, True, True, True, True, False, True, True, True]

mark_symbols = ["DXY,1时", "XAUUSD,1时", "XAGUSD,1时", "USOIL,1时", "UKOIL,1时", "US10YT,1时", "EURUSD,1时", "GBPUSD,1时", "USDJPY,1时"]
mark_names = ["美元指数", "现货黄金", "现货白银", "WTI原油", "布伦特原油", "美国10年国债收益率", "欧元/美元", "英镑/美元", "美元/日元"]
time_labels = [["10–23 05:00"], ["10–21 13:00", "10–24 19:00"], ["10–21 01:00", "10–24 01:00"],
               ["10–22 17:00"], ["10–22 04:00"], ["10–21 05:00", "10–24 07:00"],
               ["10–22 07:00", "10–24 19:00"], ["10–17 22:00", "10–23 16:00"], ["10–20 17:00", "10–24 11:00"]]

# layout in pixels of the 3222x1822 canvas
W, H, DPI = 3222, 1822, 100
PX = 72 / DPI
COLS = [(0, 938, 1064), (1074, 2012, 2139), (2148, 3088, 3213)]
ROWS = [(0, 541, 597, 0), (606, 1149, 1206, 608), (1214, 1757, 1814, 1216)]
RED, GREEN, LINE, GUTTER = "#f23645", "#089981", "#e0e3eb", "#dfe2ea"
PALETTE = {"up": RED, "down": GREEN}

first_px = [2.7, 1074, 2150, 2, 1079, 2148, 2, 1076, 2150]
last_px = [848, 1924.7, 2990.5, 850, 1917, 2996.6, 827.4, 1939, 3013]
body_px = [6, 6, 6, 6, 6, 6, 7, 5, 5]
ylims = [(98.2888, 99.2346), (3957, 4427), (46.694, 53.41), (55.14, 63.17), (59.23, 66.752),
         (3.93151, 4.03633), (1.15673, 1.16628), (1.32784, 1.3493), (148.912, 153.521)]
grid_px = [[137.7, 331.5, 525.3, 720], [1257, 1438, 1623, 1805], [2271, 2469, 2665, 2863],
           [2, 184, 368, 550, 731.5], [1253, 1436, 1618.5, 1803], [2293, 2487, 2682, 2875],
           [190, 429.5, 668], [1201, 1359, 1516.5, 1675, 1834], [2267, 2427.5, 2587, 2747, 2907.6]]
time_px = [[525], [1312, 1908], [2237, 2829], [453], [1427], [2285, 2883], [209, 807.5], [1154, 1749], [2347, 2947]]
# watermark: y line 1, size line 1, y line 2, size line 2
marks = [(236, 52, 356, 55), (241, 45, 343, 47), (241, 46, 343, 47), (846, 53, 965, 54), (846, 53, 961, 53),
         (860, 29, 926, 30), (1457, 45, 1556, 49), (1457, 45, 1558, 49), (1455, 49, 1562, 51)]
icons = ["us", "gold", "silver", "oil", "oil", "us", "eur", "gbp", "jpy"]

sns.set_theme(style="white")
plt.rcParams["font.family"] = ["Liberation Sans", "Noto Sans CJK SC"]
plt.rcParams["axes.unicode_minus"] = False

fig = plt.figure(figsize=(W / DPI, H / DPI), dpi=DPI, facecolor=GUTTER)
renderer = fig.canvas.get_renderer()


def pixel_axes(z):
    a = fig.add_axes([0, 0, 1, 1], zorder=z, facecolor="none")
    a.set_xlim(0, W)
    a.set_ylim(H, 0)
    a.axis("off")
    return a


under = pixel_axes(0)
over = pixel_axes(5)


def draw_candles(ax, ohlc, body_width, min_h):
    bars = pd.DataFrame(np.array(ohlc).reshape(-1, 4), columns=["o", "h", "l", "c"])
    bars["x"] = np.arange(len(bars))
    bars["side"] = np.where(bars.c >= bars.o, "up", "down")
    # wick always spans the body, very small bodies still show as a thin tick
    bars["h"] = bars[["o", "h", "c"]].max(axis=1)
    bars["l"] = bars[["o", "l", "c"]].min(axis=1)
    mid = (bars.o + bars.c) / 2
    half = np.maximum((bars.c - bars.o).abs() / 2, min_h / 2)
    bars["top"], bars["bot"] = mid + half, mid - half
    wicks = bars.melt(id_vars=["x", "side"], value_vars=["h", "l"], value_name="price")
    bodies = bars.melt(id_vars=["x", "side"], value_vars=["top", "bot"], value_name="price")
    for part, width in ((wicks, 2 * PX), (bodies, body_width * PX)):
        sns.lineplot(data=part, x="x", y="price", units="x", estimator=None, hue="side", palette=PALETTE,
                     linewidth=width, solid_capstyle="butt", legend=False, ax=ax)
    return len(bars)


def put_parts(x, y, parts, size=21):
    for s, color, gap in parts:
        t = over.text(x, y, s, color=color, fontsize=size, va="baseline", ha="left", zorder=12)
        x += t.get_window_extent(renderer).width + gap
    return x


def clipped(patch, clip):
    over.add_patch(patch)
    patch.set_clip_path(clip)


def us_flag(cx, cy, r):
    c = Circle((cx, cy), r, fc="white", ec="none", zorder=9)
    over.add_patch(c)
    band = 2 * r / 13
    for k in range(7):
        clipped(Rectangle((cx - r, cy - r + 2 * k * band), 2 * r, band, fc="#c8102e", ec="none", zorder=10), c)
    clipped(Rectangle((cx - r, cy - r), r, r * 0.95, fc="#3c3b6e", ec="none", zorder=11), c)


def draw_icon(kind, cx, cy):
    if kind == "us":
        us_flag(cx, cy, 20)
    elif kind == "gold":
        over.add_patch(Circle((cx, cy), 20, fc="#f0b93b", ec="none", zorder=9))
        for dx, dy in ((0, -6), (-7, 5), (7, 5)):
            over.add_patch(Rectangle((cx + dx - 5.5, cy + dy - 4.5), 11, 9, fc="white", ec="none", zorder=10))
    elif kind == "silver":
        over.add_patch(Circle((cx, cy), 20, fc="#6a95e8", ec="none", zorder=9))
        for k in range(-2, 3):
            over.plot([cx - 9 + k * 3, cx + 4 + k * 3], [cy + 5 + k * 3, cy - 8 + k * 3], color="white", lw=2.4, zorder=10)
    elif kind == "oil":
        over.add_patch(Circle((cx, cy), 20, fc="#2fa9cf", ec="none", zorder=9))
        over.add_patch(FancyBboxPatch((cx - 10, cy - 12), 20, 24, boxstyle="round,pad=0,rounding_size=4", fc="white", ec="none", zorder=10))
        over.add_patch(Circle((cx, cy + 1), 4, fc="#2fa9cf", ec="none", zorder=11))
    else:
        if kind != "jpy":
            us_flag(cx + 12, cy - 12, 13.5)
        if kind == "eur":
            over.add_patch(Circle((cx, cy), 14, fc="#1a3f8f", ec="white", lw=1, zorder=12))
            for a in np.linspace(0, 2 * np.pi, 12, endpoint=False):
                over.add_patch(Circle((cx + 9 * np.cos(a), cy + 9 * np.sin(a)), 1.1, fc="#f7c948", ec="none", zorder=13))
        elif kind == "gbp":
            c = Circle((cx, cy), 14, fc="#24348c", ec="white", lw=1, zorder=12)
            over.add_patch(c)
            for sign in (1, -1):
                line = over.plot([cx - 14, cx + 14], [cy - 14 * sign, cy + 14 * sign], color="white", lw=3, zorder=13)[0]
                line.set_clip_path(c)
            clipped(Rectangle((cx - 14, cy - 4), 28, 8, fc="#cf142b", ec="white", lw=1, zorder=14), c)
            clipped(Rectangle((cx - 4, cy - 14), 8, 28, fc="#cf142b", ec="white", lw=1, zorder=14), c)
        else:
            over.add_patch(Circle((cx + 12, cy - 12), 13.5, fc="white", ec="#eeeeee", lw=0.6, zorder=9))
            over.add_patch(Circle((cx + 14, cy - 12), 8.5, fc="#bc002d", ec="none", zorder=10))
            c = Circle((cx, cy), 14, fc="white", ec="white", lw=1, zorder=12)
            over.add_patch(c)
            for k in range(7):
                clipped(Rectangle((cx - 14, cy - 14 + k * 4.3), 28, 2.15, fc="#c8102e", ec="none", zorder=13), c)
            clipped(Rectangle((cx - 14, cy - 14), 14, 13, fc="#3c3b6e", ec="none", zorder=14), c)


all_ohlc = [dxy_ohlc, gold_ohlc, silver_ohlc, wti_ohlc, brent_ohlc, yield_ohlc, eur_ohlc, gbp_ohlc, jpy_ohlc]
all_ticks = [dxy_ticks, gold_ticks, silver_ticks, wti_ticks, brent_ticks, yield_ticks, eur_ticks, gbp_ticks, jpy_ticks]
all_fields = [dxy_fields, gold_fields, silver_fields, wti_fields, brent_fields, yield_fields, eur_fields, gbp_fields, jpy_fields]

for idx in range(9):
    x0, xa, x1 = COLS[idx % 3]
    y0, ya, y1, off = ROWS[idx // 3]
    color = RED if field_up[idx] else GREEN

    # white card and rules
    under.add_patch(Rectangle((x0, y0), x1 - x0, y1 - y0, fc="white", ec="none", zorder=1))
    under.plot([xa, xa], [y0, ya], color=LINE, lw=2 * PX, zorder=2)
    under.plot([x0, x1], [ya, ya], color=LINE, lw=2 * PX, zorder=2)

    # watermark sits under the candles
    cx = (x0 + xa) / 2
    y_a, s_a, y_b, s_b = marks[idx]
    under.text(cx, y_a, mark_symbols[idx], fontsize=s_a, color="#e9eaed", ha="center", va="center", zorder=3)
    under.text(cx, y_b, mark_names[idx], fontsize=s_b, color="#e9eaed", ha="center", va="center", zorder=3)

    ax = fig.add_axes([x0 / W, 1 - ya / H, (xa - x0) / W, (ya - y0) / H], zorder=2, facecolor="none")
    lo, hi = ylims[idx]
    ax.set_ylim(lo, hi)
    n = len(all_ohlc[idx]) // 4
    step = (last_px[idx] - first_px[idx]) / (n - 1)
    draw_candles(ax, all_ohlc[idx], body_px[idx], 2 * (hi - lo) / (ya - y0))
    ax.set_xlim((x0 - first_px[idx]) / step, (xa - first_px[idx]) / step)
    ax.set_ylim(lo, hi)
    ax.set_xlabel("")
    ax.set_ylabel("")
    sns.despine(ax=ax, left=True, bottom=True, right=True, top=True)

    ax.set_xticks([(g - first_px[idx]) / step for g in grid_px[idx]])
    ax.set_xticklabels([])
    ax.grid(axis="x", color=LINE, lw=2 * PX, ls=(0, (4.5, 2.5)))
    ax.tick_params(axis="x", length=0)

    ax.yaxis.tick_right()
    ax.set_yticks(all_ticks[idx])
    ax.set_yticklabels([f"{v:.{tick_decimals[idx]}f}" for v in all_ticks[idx]], ha="center", fontsize=18, color="#131722")
    ax.tick_params(axis="y", length=0, pad=(x1 - xa) / 2 * PX)
    ax.grid(axis="y", color="#f8f8fa", lw=1)
    ax.set_axisbelow(True)

    last = last_prices[idx]
    ax.axhline(last, color=color, lw=2 * PX, ls=(0, (1, 2)), zorder=1.9)

    # price tag on the axis strip
    y_px = H - ax.transData.transform((0, last))[1]
    over.add_patch(Rectangle((xa, y_px - 21), x1 - xa, 84, fc=color, ec="none", zorder=6))
    over.plot([xa, x1], [y_px + 21, y_px + 21], color="white", alpha=0.12, lw=1, zorder=7)
    over.text((xa + x1) / 2, y_px, f"{last:.{tick_decimals[idx]}f}", color="white", fontsize=18,
              ha="center", va="center_baseline", zorder=8)
    over.text((xa + x1) / 2, y_px + 42, "00:47:36", color="white", alpha=0.7, fontsize=18,
              ha="center", va="center_baseline", zorder=8)

    # time labels and the auto scale button
    for s, tx in zip(time_labels[idx], time_px[idx]):
        over.text(tx, ya + 30, s, fontsize=18, color="#131722", ha="center", va="center_baseline", zorder=8)
    badge_x = (xa + x1) / 2
    over.add_patch(Circle((badge_x, ya + 30), 20, fc=LINE, ec="none", zorder=7))
    over.text(badge_x, ya + 30, "A", fontsize=19, color="#131722", ha="center", va="center_baseline", zorder=8)

    # header
    pair_icon = icons[idx] in ("eur", "gbp", "jpy")
    draw_icon(icons[idx], x0 + (28 if pair_icon else 34), off + (32 if pair_icon else 26))
    end = put_parts(x0 + 63, off + 36.7, [(titles[idx], "#131722", 0)])
    over.add_patch(FancyBboxPatch((end + 12, off + 9), 55, 35, boxstyle="round,pad=0,rounding_size=11",
                                  fc="#d7efea", ec="none", zorder=8))
    over.add_patch(Circle((end + 39.5, off + 26), 8, fc=GREEN, ec="none", zorder=9))
    parts = []
    for name, val in zip(field_names, all_fields[idx]):
        parts += [(name, "#131722", 0), (val, color, 13)]
    parts.append((all_fields[idx][4], color, 0))
    end = put_parts(x0 + 19, off + 76, parts, size=20.4)
    over.add_patch(Rectangle((x0 + 15, off + 52), end - x0 - 10, 33, fc="white", ec="none", alpha=0.55, zorder=5))

# selected chart outline and the logo text
over.add_patch(Rectangle((0, 0), 1062.7, 595, fc="none", ec="#ff7043", lw=4 * PX, zorder=15))
over.text(18, 1722, "TradingHero", fontsize=29, color="#b0b0b0", fontfamily="Open Sans", fontweight="bold",
          ha="left", va="baseline", zorder=12)

fig.savefig("out.png", dpi=DPI, facecolor=GUTTER)
